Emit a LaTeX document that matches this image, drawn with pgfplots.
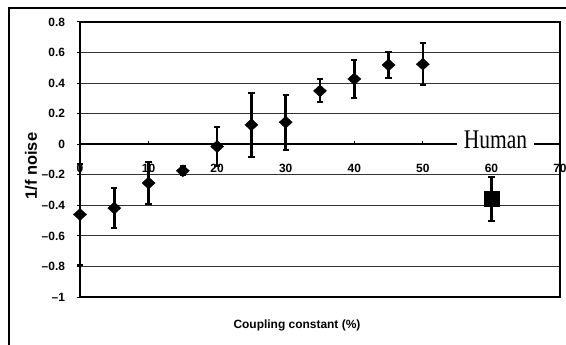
\documentclass[border=0pt]{standalone}
\usepackage{fontspec}
\setmainfont{Liberation Sans}
\newfontfamily\humanfont{Liberation Serif}
\usepackage{graphicx}
\usepackage{pgfplots}
\pgfplotsset{compat=1.18}
\pgfplotstableread{
x y e
0 -0.46 0.33
5 -0.418 0.13
10 -0.254 0.135
15 -0.174 0.03
20 -0.015 0.125
25 0.127 0.21
30 0.144 0.18
35 0.349 0.075
40 0.427 0.125
45 0.519 0.087
50 0.524 0.137
}\sim
\pgfplotstableread{
x y e
60 -0.359 0.145
}\human
\begin{document}
\begin{tikzpicture}
\path[use as bounding box] (-80bp,-48bp) rectangle (486bp,297bp);
\draw[line width=2bp] (-71bp,-50bp) -- (-71bp,289bp) -- (488bp,289bp);
\begin{axis}[
  at={(0,0)}, anchor=south west, scale only axis,
  width=480bp, height=275bp,
  xmin=0, xmax=70, ymin=-1, ymax=0.8,
  axis x line*=middle, axis y line*=left,
  axis line style={-, black, line width=2.4bp},
  hide obscured x ticks=false,
  xtick={0,10,20,30,40,50,60,70},
  xticklabels={0,10,20,30,40,50,60,70},
  ytick={-1,-0.8,-0.6,-0.4,-0.2,0,0.2,0.4,0.6,0.8},
  yticklabels={–1,–0.8,–0.6,–0.4,–0.2,0,0.2,0.4,0.6,0.8},
  xtick align=inside, ytick align=outside,
  major tick length=3.5bp,
  tick style={black, line width=1bp},
  ymajorgrids,
  grid style={black!80, line width=1.2bp},
  ticklabel style={font=\bfseries\fontsize{12}{12}\selectfont},
  xticklabel style={yshift=-16bp, fill=none},
  yticklabel style={xshift=-8bp},
  clip=false,
]
\draw[black, line width=1.5bp] (axis cs:0,0.8) -- (axis cs:70,0.8) -- (axis cs:70,-1) -- (axis cs:0,-1);
\addplot[only marks, mark=diamond*, mark size=6bp, mark options={black, xscale=1.45},
  error bars/.cd, y dir=both, y explicit,
  error bar style={black, line width=2.6bp},
  error mark options={black, rotate=90, mark size=3.2bp, line width=2bp}]
  table[x=x, y=y, y error=e] {\sim};
\addplot[only marks, mark=square*, mark size=7.5bp, mark options={black},
  error bars/.cd, y dir=both, y explicit,
  error bar style={black, line width=2.6bp},
  error mark options={black, rotate=90, mark size=3.2bp, line width=2bp}]
  table[x=x, y=y, y error=e] {\human};
\node[fill=white, inner xsep=7bp, inner ysep=1bp, yshift=4.5bp] at (axis cs:60.6,0)
  {\humanfont\scalebox{0.8}[1]{\fontsize{27}{27}\selectfont Human}};
\node[font=\bfseries\fontsize{12}{12}\selectfont] at (rel axis cs:0.452,-0.105) {Coupling constant (\%)};
\node[font=\bfseries\fontsize{16.5}{16.5}\selectfont, rotate=90] at (rel axis cs:-0.102,0.476) {1/f noise};
\end{axis}
\end{tikzpicture}
\end{document}
